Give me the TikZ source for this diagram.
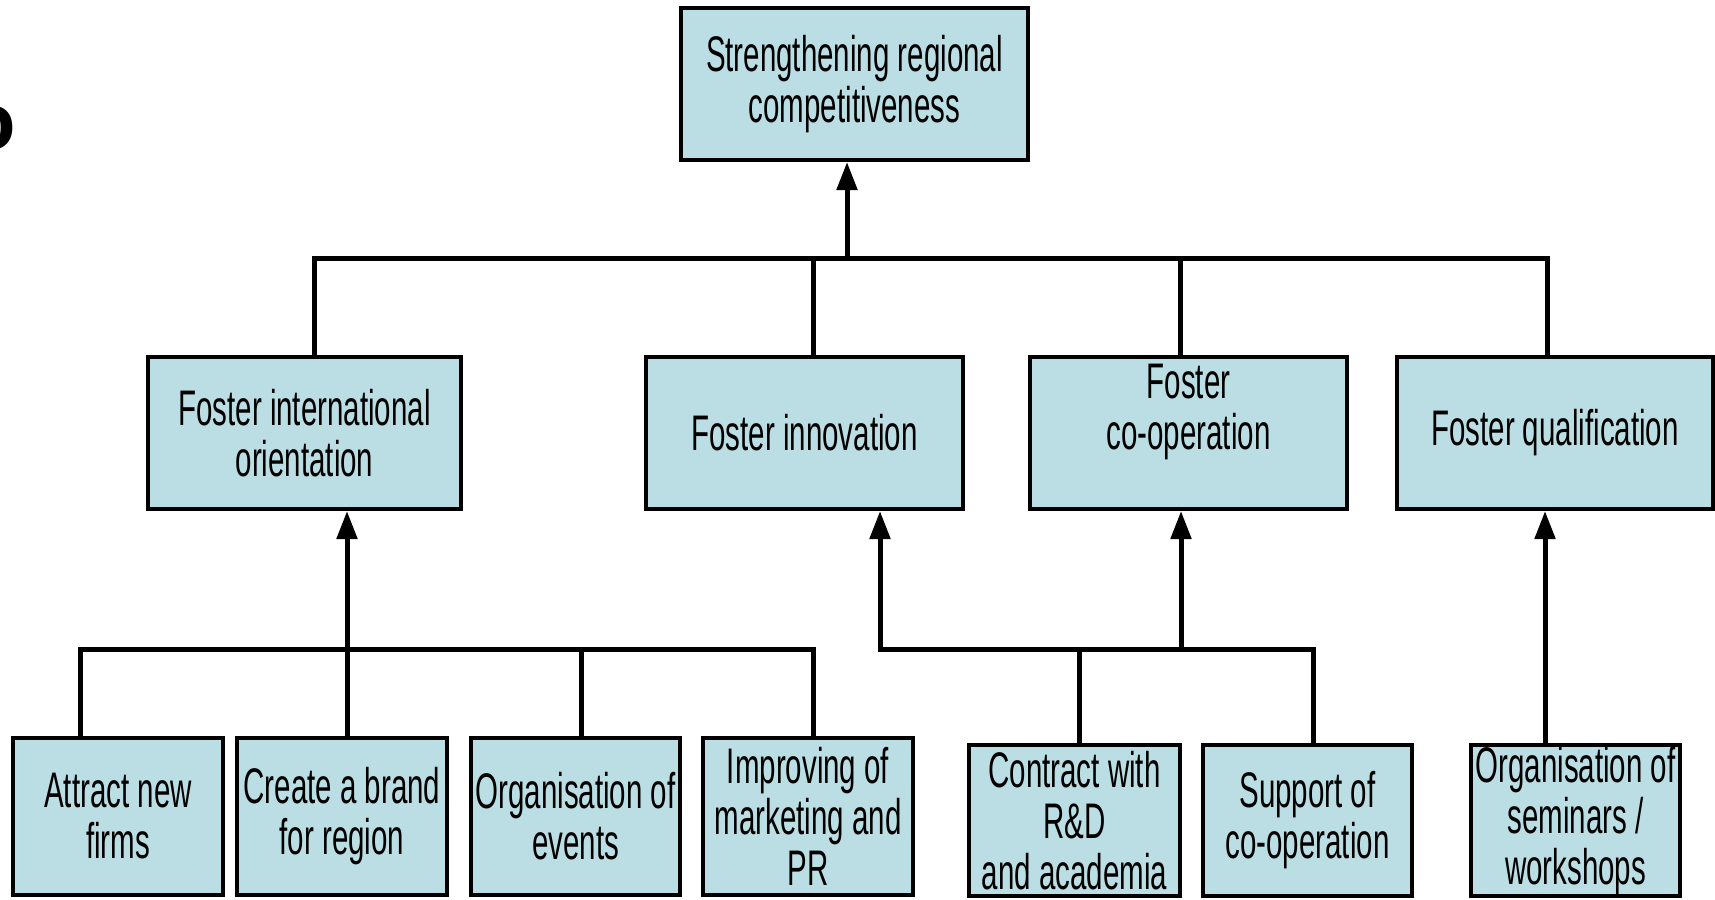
\documentclass[tikz,border=0pt]{standalone}
\usepackage{fontspec}
\setmainfont[FakeStretch=0.59]{Liberation Sans}
\newfontfamily\plainsans{Liberation Sans}
\usetikzlibrary{arrows.meta}
\definecolor{boxblue}{RGB}{186,222,227}
\begin{document}
\begin{tikzpicture}[x=1pt,y=-1pt,
  box/.style={draw=black, line width=4pt, fill=boxblue, inner sep=0pt, align=center,
    font=\fontsize{50}{51}\selectfont},
  conn/.style={line width=5pt, line join=miter},
  arr/.style={conn, -{Triangle[width=20pt,length=28pt]}}
]
\useasboundingbox (0,0) rectangle (1715,899);
\fill[white] (0,0) rectangle (1715,899);

% fragment at top left
\node[anchor=base east, inner sep=0pt, font=\plainsans\fontsize{81}{81}\bfseries\selectfont] (frag) at (16,149) {o};

% top
\node[box, minimum width=347pt, minimum height=152pt] (top) at (854.5,84) {Strengthening regional\\competitiveness};

% level 2
\node[box, minimum width=313pt, minimum height=152pt] (A) at (304.5,433) {Foster international\\orientation};
\node[box, minimum width=317pt, minimum height=152pt] (B) at (804.5,433) {Foster innovation};
\node[box, minimum width=317pt, minimum height=152pt] (C) at (1188.5,433) {Foster\\co-operation\\[-14pt]\strut};
\node[box, minimum width=316pt, minimum height=152pt] (D) at (1555,433) {Foster qualification};

% level 3
\node[box, minimum width=210pt, minimum height=157pt] (a1) at (118,816.5) {Attract new\\firms};
\node[box, minimum width=210pt, minimum height=157pt] (a2) at (342,816.5) {Create a brand\\for region};
\node[box, minimum width=209pt, minimum height=157pt] (a3) at (575.5,816.5) {Organisation of\\events};
\node[box, minimum width=210pt, minimum height=157pt] (a4) at (808,816.5) {Improving of\\marketing and\\PR};
\node[box, minimum width=211pt, minimum height=151pt] (b1) at (1074.5,820.5) {Contract with\\R\&D\\and academia};
\node[box, minimum width=209pt, minimum height=151pt] (b2) at (1307.5,820.5) {Support of\\co-operation};
\node[box, minimum width=209pt, minimum height=151pt] (d1) at (1575.5,820.5) {Organisation of\\seminars /\\workshops};

% upper bar
\coordinate (bar1) at (0,258);
\draw[conn] ([xshift=9.5pt]A.north) -- ([xshift=9.5pt]A.north |- bar1) -- ([xshift=-8pt]D.north |- bar1) -- ([xshift=-8pt]D.north);
\draw[conn] ([xshift=8.5pt]B.north) -- ([xshift=8.5pt]B.north |- bar1);
\draw[conn] ([xshift=-8.5pt]C.north) -- ([xshift=-8.5pt]C.north |- bar1);
\draw[arr] ([xshift=-7.5pt]top.south |- bar1) -- ([xshift=-7.5pt]top.south);

% lower left group
\coordinate (bar2) at (0,649);
\draw[conn] ([xshift=-38pt]a1.north) -- ([xshift=-38pt]a1.north |- bar2) -- ([xshift=5pt]a4.north |- bar2) -- ([xshift=5pt]a4.north);
\draw[conn] ([xshift=5pt]a2.north) -- ([xshift=5pt]a2.north |- bar2);
\draw[conn] ([xshift=5.5pt]a3.north) -- ([xshift=5.5pt]a3.north |- bar2);
\draw[arr] ([xshift=5pt]a2.north |- bar2) -- ([xshift=42.5pt]A.south);

% lower right group
\draw[arr] ([xshift=4.5pt]b1.north) -- ([xshift=4.5pt]b1.north |- bar2) -- ([xshift=75.5pt]B.south |- bar2) -- ([xshift=75.5pt]B.south);
\draw[conn] ([xshift=4.5pt]b1.north |- bar2) -- ([xshift=5.5pt]b2.north |- bar2) -- ([xshift=5.5pt]b2.north);
\draw[arr] ([xshift=-7.5pt]C.south |- bar2) -- ([xshift=-7.5pt]C.south);

% qualification
\draw[arr] ([xshift=-30.5pt]d1.north) -- ([xshift=-30.5pt]d1.north |- D.south);
\end{tikzpicture}
\end{document}
